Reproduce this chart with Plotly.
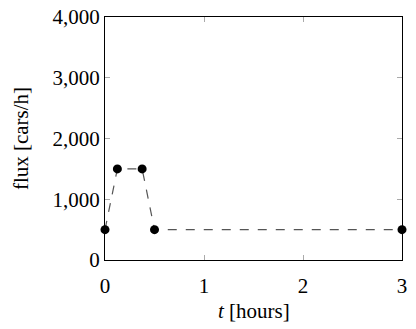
import plotly.graph_objects as go

t_hours = [0, 0.125, 0.375, 0.5, 3]
flux = [500, 1500, 1500, 500, 500]

x_tickvals = [0, 1, 2, 3]
x_ticktext = ["0", "1", "2", "3"]
y_tickvals = [0, 1000, 2000, 3000, 4000]
y_ticktext = ["0", "1,000", "2,000", "3,000", "4,000"]

font_family = "Liberation Serif"

fig = go.Figure()
fig.add_trace(go.Scatter(
    x=t_hours, y=flux, mode="lines+markers",
    line=dict(color="#555555", width=1.2, dash="dash"),
    marker=dict(color="black", size=9),
    cliponaxis=False,
))

axis_common = dict(
    showline=True, linecolor="black", linewidth=1, mirror="ticks",
    ticks="inside", ticklen=5, tickcolor="#aaaaaa", tickwidth=1,
    showgrid=False, zeroline=False, automargin=False,
    tickfont=dict(family=font_family, size=21, color="black"),
)

fig.update_layout(
    width=416, height=329,
    margin=dict(l=105, r=14, t=17, b=69),
    paper_bgcolor="white", plot_bgcolor="white",
    showlegend=False,
    font=dict(family=font_family, color="black"),
    xaxis=dict(range=[0, 3], tickvals=x_tickvals, ticktext=x_ticktext,
               ticklabelstandoff=7, **axis_common),
    yaxis=dict(range=[0, 4000], tickvals=y_tickvals, ticktext=y_ticktext,
               title=dict(text="flux [cars/h]", font=dict(family=font_family, size=21), standoff=18),
               **axis_common),
    annotations=[dict(
        text="<i>t</i> [hours]", xref="paper", yref="paper", x=0.5, y=-0.21,
        xanchor="center", yanchor="middle", showarrow=False,
        font=dict(family=font_family, size=21, color="black"),
    )],
)

fig.write_html("out.html")
